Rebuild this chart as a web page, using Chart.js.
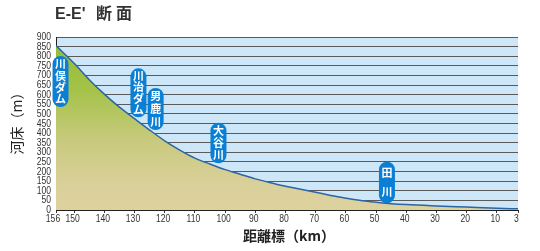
<!DOCTYPE html>
<html>
<head>
<meta charset="utf-8">
<script src="https://cdn.jsdelivr.net/npm/chart.js@4.4.1/dist/chart.umd.min.js"></script>
<style>
  html, body { margin: 0; padding: 0; background: #fff; }
  #wrap { width: 540px; height: 251px; }
</style>
</head>
<body>
<div id="wrap"><canvas id="c" width="540" height="251"></canvas></div>
<script>
// 河床縦断 (距離標 km / 河床高 m)
const distKm = [156, 150, 145, 140, 135, 130, 125, 120, 115, 110, 105, 100, 95, 90, 85, 80, 75, 70, 65, 60, 55, 50, 45, 40, 30, 20, 10, 3];
const bedM   = [855, 763, 678, 603, 535, 475, 416, 360, 312, 270, 239, 210, 186, 162, 142, 123, 108, 92, 76, 61, 50, 40, 33, 28, 21, 15, 9, 6];

const xTicks = [156, 150, 140, 130, 120, 110, 100, 90, 80, 70, 60, 50, 40, 30, 20, 10, 3];
const yMax = 900;
const yStep = 50;

// 支川・ダム名のラベル
const markNames  = ['川俣ダム', '川治ダム', '男鹿川', '大谷川', '田川'];
const markKm     = [154.5, 128.7, 123.0, 102.2, 46.4];
const markTop    = [801, 737, 635, 454, 251];
const markBottom = [536, 482, 416, 243, 35];

const JP = '"Noto Sans CJK JP", "Noto Sans", sans-serif';

const bgPlugin = {
  id: 'bg',
  beforeDraw(chart) {
    const { ctx, chartArea: a } = chart;
    ctx.save();
    ctx.fillStyle = '#cde7f9';
    ctx.fillRect(a.left, a.top, a.right - a.left, a.bottom - a.top);
    ctx.restore();
  }
};

// 細い数字で目盛ラベルを描く (位置はスケールから)
function narrowText(ctx, txt, x, y, align) {
  const sx = 0.78;
  ctx.save();
  ctx.translate(x, y);
  ctx.scale(sx, 1);
  ctx.textAlign = align;
  ctx.fillText(txt, 0, 0);
  ctx.restore();
}

const tickPlugin = {
  id: 'ticklabels',
  afterDraw(chart) {
    const { ctx } = chart;
    const xs = chart.scales.x, ys = chart.scales.y;
    ctx.save();
    ctx.fillStyle = '#333';
    ctx.font = '11px "Liberation Sans", sans-serif';
    ctx.textBaseline = 'middle';
    ys.ticks.forEach((t) => {
      narrowText(ctx, String(t.value), 51, ys.getPixelForValue(t.value), 'right');
    });
    xs.ticks.forEach((t) => {
      const off = t.value === 156 ? -3 : -1.5;
      narrowText(ctx, String(t.value), xs.getPixelForValue(t.value) + off, 219, 'center');
    });
    ctx.restore();
  }
};

const markPlugin = {
  id: 'marks',
  afterDatasetsDraw(chart) {
    const { ctx } = chart;
    const xs = chart.scales.x, ys = chart.scales.y;
    ctx.save();
    markNames.forEach((name, i) => {
      const cx = xs.getPixelForValue(markKm[i]);
      const top = ys.getPixelForValue(markTop[i]);
      const bot = ys.getPixelForValue(markBottom[i]);
      const w = 16, h = bot - top;
      ctx.fillStyle = '#0b7fd3';
      ctx.beginPath();
      ctx.roundRect(cx - w / 2, top, w, h, 8);
      ctx.fill();
      ctx.fillStyle = '#fff';
      ctx.font = 'bold 11px ' + JP;
      ctx.textAlign = 'center';
      ctx.textBaseline = 'middle';
      const chars = Array.from(name);
      const pad = 2, slot = (h - pad * 2) / chars.length;
      chars.forEach((ch, j) => {
        ctx.fillText(ch, cx, top + pad + slot * (j + 0.5));
      });
    });
    ctx.restore();
  }
};

const textPlugin = {
  id: 'texts',
  afterDraw(chart) {
    const { ctx } = chart;
    ctx.save();
    ctx.fillStyle = '#333';
    ctx.textBaseline = 'alphabetic';
    ctx.textAlign = 'left';
    ctx.font = 'bold 16px "Liberation Sans", ' + JP;
    ctx.fillText("E-E'", 55, 19);
    ctx.font = 'bold 16px ' + JP;
    ctx.fillText('断', 96, 19);
    ctx.fillText('面', 116, 19);

    ctx.fillStyle = '#222';
    ctx.font = 'bold 14px ' + JP;
    ctx.textAlign = 'center';
    ctx.textBaseline = 'middle';
    ctx.fillText('距離標（km）', 289, 236);

    ctx.translate(17, 120);
    ctx.rotate(-Math.PI / 2);
    ctx.font = '14px ' + JP;
    ctx.fillText('河床（m）', 0, 0);
    ctx.restore();
  }
};

new Chart(document.getElementById('c'), {
  type: 'line',
  data: {
    datasets: [{
      data: distKm.map((k, i) => ({ x: k, y: bedM[i] })),
      borderColor: '#2d64a5',
      borderWidth: 1.5,
      pointRadius: 0,
      cubicInterpolationMode: 'monotone',
      fill: 'origin',
      backgroundColor: (c) => {
        const a = c.chart.chartArea;
        if (!a) return '#c8c878';
        const g = c.chart.ctx.createLinearGradient(0, a.top, 0, a.bottom);
        g.addColorStop(0, '#90be30');
        g.addColorStop(0.3, '#a4c248');
        g.addColorStop(0.6, '#c8ca7e');
        g.addColorStop(0.85, '#dad09a');
        g.addColorStop(1, '#ddd29f');
        return g;
      }
    }]
  },
  options: {
    responsive: false,
    animation: false,
    devicePixelRatio: 1,
    layout: { padding: { top: 37, right: 22, left: 0, bottom: 0 } },
    plugins: { legend: { display: false }, tooltip: { enabled: false } },
    scales: {
      x: {
        type: 'linear',
        reverse: true,
        min: 3,
        max: 156,
        afterBuildTicks: (s) => { s.ticks = xTicks.map((v) => ({ value: v })); },
        afterFit: (s) => { s.height = 41; },
        ticks: { display: false, autoSkip: false, maxRotation: 0 },
        grid: { drawOnChartArea: false, tickLength: 3, color: '#333' },
        border: { color: '#222', width: 1 }
      },
      y: {
        min: 0,
        max: yMax,
        afterFit: (s) => { s.width = 56; },
        ticks: { display: false, stepSize: yStep, autoSkip: false },
        grid: { color: '#5a5a5a', lineWidth: 1, drawTicks: false },
        border: { color: '#222', width: 1 }
      }
    }
  },
  plugins: [bgPlugin, markPlugin, textPlugin, tickPlugin]
});
</script>
</body>
</html>
